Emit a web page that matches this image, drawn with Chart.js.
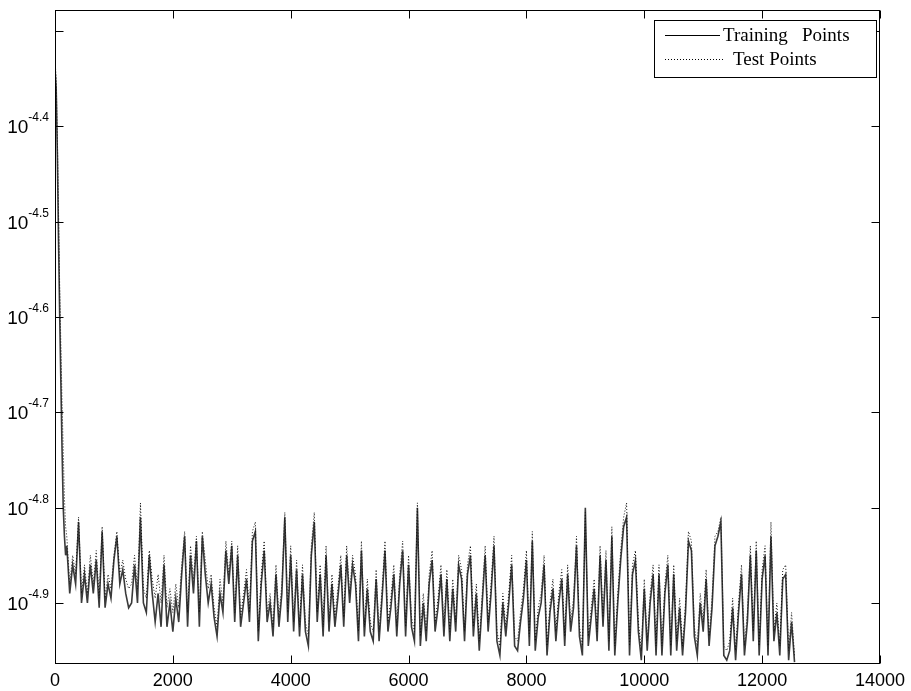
<!DOCTYPE html>
<html>
<head>
<meta charset="utf-8">
<script src="https://cdn.jsdelivr.net/npm/chart.js@4.4.1/dist/chart.umd.min.js"></script>
<style>
  html, body { margin: 0; padding: 0; background: #fff; }
  #wrap { width: 911px; height: 691px; }
</style>
</head>
<body>
<div id="wrap"><canvas id="chart" width="911" height="691"></canvas></div>
<script>
// Iteration index where each sample was read
const iterations = [
  0, 20, 40, 60, 80, 100, 120, 140, 160, 180, 200,
  250, 300, 350, 400, 450, 500, 550, 600, 650, 700,
  750, 800, 850, 900, 950, 1000, 1050, 1100, 1150, 1200,
  1250, 1300, 1350, 1400, 1450, 1500, 1550, 1600, 1650, 1700,
  1750, 1800, 1850, 1900, 1950, 2000, 2050, 2100, 2150, 2200,
  2250, 2300, 2350, 2400, 2450, 2500,
  2550, 2600, 2650, 2700, 2750, 2800, 2850, 2900, 2950, 3000,
  3050, 3100, 3150, 3200, 3250, 3300, 3350, 3400, 3450, 3500,
  3550, 3600, 3650, 3700, 3750, 3800, 3850, 3900, 3950, 4000,
  4050, 4100, 4150, 4200, 4250, 4300, 4350, 4400, 4450, 4500,
  4550, 4600, 4650, 4700, 4750, 4800, 4850, 4900, 4950, 5000,
  5050,
  5100, 5150, 5200, 5250, 5300, 5350, 5400, 5450, 5500, 5550,
  5600, 5650, 5700, 5750, 5800, 5850, 5900, 5950, 6000, 6050,
  6100, 6150, 6200, 6250, 6300, 6350, 6400, 6450, 6500, 6550,
  6600, 6650, 6700, 6750, 6800, 6850, 6900, 6950, 7000, 7050,
  7100, 7150, 7200, 7250, 7300, 7350, 7400, 7450, 7500, 7550,
  7600,
  7650, 7700, 7750, 7800, 7850, 7900, 7950, 8000, 8050, 8100,
  8150, 8200, 8250, 8300, 8350, 8400, 8450, 8500, 8550, 8600,
  8650, 8700, 8750, 8800, 8850, 8900, 8950, 9000, 9050, 9100,
  9150, 9200, 9250, 9300, 9350, 9400, 9450, 9500, 9550, 9600,
  9650, 9700, 9750, 9800, 9850, 9900, 9950, 10000, 10050, 10100,
  10150, 10200, 10250, 10300, 10350, 10400, 10450, 10500, 10550, 10600,
  10650, 10700, 10750, 10800, 10850, 10900, 10950, 11000, 11050, 11100,
  11150, 11200, 11250, 11300, 11350, 11400, 11450, 11500, 11550, 11600,
  11650, 11700, 11750, 11800, 11850, 11900, 11950, 12000, 12050, 12100,
  12150, 12200, 12250, 12300, 12350, 12400, 12450, 12500, 12550
];

// log10 of the error, training points
const trainLog = [
  -4.34, -4.36, -4.43, -4.52, -4.60, -4.67, -4.74, -4.80, -4.83, -4.85, -4.84,
  -4.89, -4.86, -4.88, -4.815, -4.90, -4.87, -4.90, -4.86, -4.89, -4.855,
  -4.905, -4.825, -4.905, -4.88, -4.895, -4.855, -4.83, -4.88, -4.865, -4.89,
  -4.905, -4.90, -4.86, -4.90, -4.81, -4.90, -4.91, -4.85, -4.89, -4.92,
  -4.89, -4.925, -4.86, -4.925, -4.90, -4.93, -4.895, -4.92, -4.87, -4.83,
  -4.925, -4.85, -4.89, -4.835, -4.925, -4.83,
  -4.87, -4.90, -4.88, -4.915, -4.935, -4.89, -4.91, -4.845, -4.88, -4.84,
  -4.92, -4.85, -4.925, -4.90, -4.875, -4.92, -4.835, -4.825, -4.94, -4.88,
  -4.845, -4.92, -4.90, -4.935, -4.87, -4.925, -4.89, -4.81, -4.92, -4.85,
  -4.93, -4.865, -4.935, -4.87, -4.93, -4.945, -4.85, -4.815, -4.92, -4.87,
  -4.935, -4.85, -4.93, -4.88, -4.925, -4.895, -4.86, -4.925, -4.85, -4.90,
  -4.86,
  -4.88, -4.94, -4.845, -4.935, -4.885, -4.93, -4.94, -4.875, -4.94, -4.895,
  -4.845, -4.93, -4.905, -4.87, -4.935, -4.88, -4.845, -4.935, -4.86, -4.925,
  -4.94, -4.80, -4.945, -4.90, -4.94, -4.88, -4.855, -4.93, -4.905, -4.87,
  -4.935, -4.875, -4.94, -4.885, -4.93, -4.86, -4.875, -4.94, -4.87, -4.85,
  -4.935, -4.89, -4.95, -4.90, -4.85, -4.93, -4.89, -4.84, -4.94, -4.955,
  -4.90,
  -4.935, -4.90, -4.86, -4.945, -4.95, -4.92, -4.895, -4.855, -4.945, -4.835,
  -4.95, -4.915, -4.90, -4.86, -4.955, -4.91, -4.885, -4.94, -4.90, -4.875,
  -4.945, -4.87, -4.93, -4.905, -4.84, -4.935, -4.955, -4.80, -4.945, -4.915,
  -4.885, -4.94, -4.85, -4.925, -4.855, -4.95, -4.83, -4.955, -4.90, -4.855,
  -4.82, -4.81, -4.955, -4.87, -4.855, -4.93, -4.96, -4.885, -4.95, -4.90,
  -4.87, -4.955, -4.87, -4.955, -4.89, -4.86, -4.955, -4.87, -4.95, -4.905,
  -4.955, -4.91, -4.835, -4.845, -4.935, -4.955, -4.90, -4.93, -4.875, -4.945,
  -4.905, -4.84, -4.83, -4.815, -4.955, -4.96, -4.95, -4.905, -4.96, -4.91,
  -4.87, -4.955, -4.92, -4.85, -4.94, -4.845, -4.955, -4.875, -4.85, -4.955,
  -4.83, -4.94, -4.91, -4.955, -4.875, -4.87, -4.96, -4.92, -4.962
];

// log10 of the error, test points
const testLog = [
  -4.33, -4.35, -4.41, -4.49, -4.57, -4.63, -4.69, -4.74, -4.79, -4.82, -4.83,
  -4.88, -4.85, -4.87, -4.81, -4.89, -4.86, -4.89, -4.85, -4.88, -4.845,
  -4.895, -4.82, -4.895, -4.87, -4.885, -4.85, -4.825, -4.87, -4.855, -4.875,
  -4.885, -4.88, -4.85, -4.885, -4.795, -4.885, -4.895, -4.845, -4.875, -4.895,
  -4.87, -4.90, -4.85, -4.905, -4.885, -4.91, -4.88, -4.905, -4.86, -4.825,
  -4.91, -4.84, -4.875, -4.83, -4.91, -4.825,
  -4.855, -4.885, -4.87, -4.905, -4.925, -4.875, -4.90, -4.835, -4.87, -4.835,
  -4.91, -4.84, -4.915, -4.89, -4.865, -4.91, -4.825, -4.815, -4.93, -4.87,
  -4.835, -4.91, -4.89, -4.925, -4.86, -4.915, -4.88, -4.805, -4.91, -4.84,
  -4.92, -4.855, -4.925, -4.86, -4.92, -4.935, -4.84, -4.805, -4.91, -4.86,
  -4.925, -4.84, -4.92, -4.87, -4.915, -4.885, -4.85, -4.915, -4.84, -4.89,
  -4.85,
  -4.87, -4.93, -4.835, -4.925, -4.875, -4.92, -4.93, -4.865, -4.93, -4.885,
  -4.835, -4.92, -4.895, -4.86, -4.925, -4.87, -4.835, -4.925, -4.85, -4.915,
  -4.93, -4.795, -4.935, -4.89, -4.93, -4.87, -4.845, -4.92, -4.895, -4.86,
  -4.925, -4.865, -4.93, -4.875, -4.92, -4.85, -4.865, -4.93, -4.86, -4.84,
  -4.925, -4.88, -4.94, -4.89, -4.84, -4.92, -4.88, -4.83, -4.93, -4.945,
  -4.89,
  -4.925, -4.89, -4.85, -4.935, -4.94, -4.91, -4.885, -4.845, -4.935, -4.825,
  -4.94, -4.905, -4.89, -4.85, -4.945, -4.90, -4.875, -4.93, -4.89, -4.865,
  -4.935, -4.86, -4.92, -4.895, -4.83, -4.925, -4.945, -4.805, -4.935, -4.905,
  -4.875, -4.93, -4.84, -4.915, -4.845, -4.94, -4.82, -4.945, -4.89, -4.845,
  -4.81, -4.795, -4.945, -4.86, -4.845, -4.92, -4.95, -4.875, -4.94, -4.89,
  -4.86, -4.945, -4.86, -4.945, -4.88, -4.85, -4.945, -4.86, -4.94, -4.895,
  -4.945, -4.90, -4.825, -4.835, -4.925, -4.945, -4.89, -4.92, -4.865, -4.935,
  -4.895, -4.83, -4.825, -4.81, -4.945, -4.95, -4.94, -4.895, -4.95, -4.90,
  -4.86, -4.945, -4.91, -4.84, -4.93, -4.835, -4.945, -4.865, -4.84, -4.945,
  -4.815, -4.93, -4.90, -4.945, -4.865, -4.86, -4.95, -4.91, -4.955
];

const xTicks = [0, 2000, 4000, 6000, 8000, 10000, 12000, 14000];
const yTicks = [-4.9, -4.8, -4.7, -4.6, -4.5, -4.4, -4.3];
const yTickLabels = ['-4.9', '-4.8', '-4.7', '-4.6', '-4.5', '-4.4', ''];
const seriesNames = ['Training   Points', 'Test Points'];

const toPoints = function (ys) {
  return ys.map(function (y, i) {
    return { x: iterations[i], y: y };
  });
};

// MATLAB-like box, inward ticks, 10^x labels and the legend
const matlabFrame = {
  id: 'matlabFrame',
  afterDraw: function (chart) {
    const ctx = chart.ctx;
    const area = chart.chartArea;
    const xs = chart.scales.x;
    const ys = chart.scales.y;
    const L = Math.round(area.left) + 0.5;
    const R = Math.round(area.right) - 0.5;
    const T = Math.round(area.top) + 0.5;
    const B = Math.round(area.bottom) - 0.5;

    ctx.save();
    ctx.strokeStyle = '#000';
    ctx.lineWidth = 1;
    ctx.strokeRect(L, T, R - L, B - T);

    ctx.beginPath();
    xTicks.forEach(function (v) {
      const px = Math.round(xs.getPixelForValue(v)) + 0.5;
      ctx.moveTo(px, B); ctx.lineTo(px, B - 8);
      ctx.moveTo(px, T); ctx.lineTo(px, T + 8);
    });
    yTicks.forEach(function (v) {
      const py = Math.round(ys.getPixelForValue(v)) + 0.5;
      ctx.moveTo(L, py); ctx.lineTo(L + 8, py);
      ctx.moveTo(R, py); ctx.lineTo(R - 8, py);
    });
    ctx.stroke();

    // y labels as 10 with a raised exponent
    ctx.fillStyle = '#000';
    ctx.textBaseline = 'alphabetic';
    yTicks.forEach(function (v, i) {
      const exp = yTickLabels[i];
      if (!exp) return;
      const py = ys.getPixelForValue(v);
      ctx.font = '12px "Liberation Sans", Arial, sans-serif';
      const ew = ctx.measureText(exp).width;
      ctx.textAlign = 'left';
      ctx.fillText(exp, 49 - ew, py - 5);
      ctx.font = '19px "Liberation Sans", Arial, sans-serif';
      ctx.textAlign = 'right';
      ctx.fillText('10', 49 - ew, py + 7);
    });

    // legend
    const bx = 654.5, by = 20.5, bw = 222, bh = 57;
    ctx.fillStyle = '#fff';
    ctx.fillRect(bx, by, bw, bh);
    ctx.strokeStyle = '#000';
    ctx.strokeRect(bx, by, bw, bh);

    ctx.beginPath();
    ctx.moveTo(665, 35.5); ctx.lineTo(720, 35.5);
    ctx.stroke();
    ctx.setLineDash([1, 2]);
    ctx.beginPath();
    ctx.moveTo(665, 59.5); ctx.lineTo(723, 59.5);
    ctx.stroke();
    ctx.setLineDash([]);

    ctx.fillStyle = '#000';
    ctx.font = '19px "Liberation Serif", "Times New Roman", serif';
    ctx.textAlign = 'left';
    ctx.textBaseline = 'middle';
    ctx.fillText(seriesNames[0], 723, 36);
    ctx.fillText(seriesNames[1], 733, 60);
    ctx.restore();
  }
};

const chartData = {
  datasets: [
    {
      label: seriesNames[1],
      data: toPoints(testLog),
      borderColor: '#111',
      borderWidth: 1,
      borderDash: [1, 2],
      pointRadius: 0,
      tension: 0,
      fill: false,
    },
    {
      label: seriesNames[0],
      data: toPoints(trainLog),
      borderColor: '#3a3a3a',
      borderWidth: 1.6,
      pointRadius: 0,
      tension: 0,
      fill: false,
    },
  ],
};

const chartOptions = {
  responsive: false,
  animation: false,
  layout: {
    padding: { top: 10, right: 27, left: 0, bottom: 0 },
  },
  plugins: {
    legend: { display: false },
    tooltip: { enabled: false },
  },
  scales: {
    x: {
      type: 'linear',
      min: 0,
      max: 14000,
      afterBuildTicks: function (scale) {
        scale.ticks = xTicks.map(function (v) { return { value: v }; });
      },
      afterFit: function (scale) {
        scale.height = 27;
      },
      ticks: {
        autoSkip: false,
        maxRotation: 0,
        padding: 6,
        color: '#000',
        font: { family: "'Liberation Sans', Arial, sans-serif", size: 18 },
        callback: function (v) { return String(v); },
      },
      grid: { display: false, drawTicks: false },
      border: { display: false },
    },
    y: {
      type: 'linear',
      min: -4.964,
      max: -4.278,
      afterFit: function (scale) {
        scale.width = 55;
      },
      ticks: { display: false },
      grid: { display: false, drawTicks: false },
      border: { display: false },
    },
  },
};

new Chart(document.getElementById('chart').getContext('2d'), {
  type: 'line',
  data: chartData,
  options: chartOptions,
  plugins: [matlabFrame],
});
</script>
</body>
</html>
